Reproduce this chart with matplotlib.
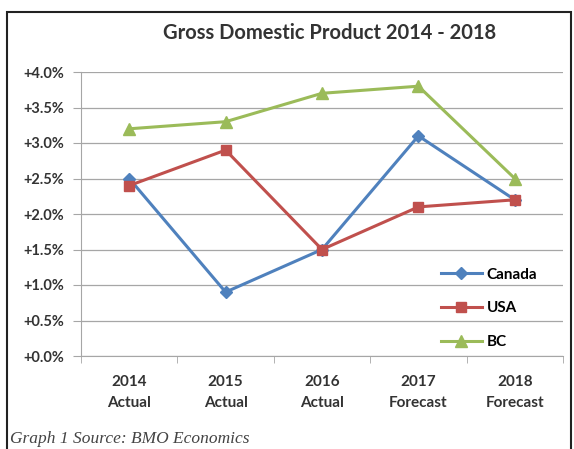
import matplotlib.pyplot as plt
from matplotlib.patches import Rectangle
from matplotlib.ticker import FixedLocator, FuncFormatter

# Data
years = ["2014\nActual", "2015\nActual", "2016\nActual", "2017\nForecast", "2018\nForecast"]
canada = [2.5, 0.9, 1.5, 3.1, 2.2]
usa = [2.4, 2.9, 1.5, 2.1, 2.2]
bc = [3.2, 3.3, 3.7, 3.8, 2.5]

plt.rcParams['font.family'] = ['Lato', 'DejaVu Sans']

fig = plt.figure(figsize=(5.74, 4.49), dpi=100)
ax = fig.add_axes([81 / 574, 93 / 449, 482 / 574, 284 / 449])

x = list(range(len(years)))
ax.plot(x, canada, color='#4F81BD', lw=2.2, marker='D', ms=6, label='Canada')
ax.plot(x, usa, color='#C0504D', lw=2.2, marker='s', ms=7.5, label='USA')
ax.plot(x, bc, color='#9BBB59', lw=2.2, marker='^', ms=8, label='BC')

ax.set_xlim(-0.5, len(years) - 0.5)
ax.set_ylim(0, 4.0)
ax.set_yticks([i * 0.5 for i in range(9)])
ax.yaxis.set_major_formatter(FuncFormatter(lambda v, p: '+%.1f%%' % v))
ax.grid(axis='y', color='#a6a6a6', lw=0.9)
ax.set_axisbelow(True)

ax.set_xticks(x)
ax.set_xticklabels(years, fontweight='bold', fontsize=11, color='#333333', linespacing=1.6)
ax.xaxis.set_minor_locator(FixedLocator([i - 0.5 for i in range(len(years) + 1)]))
ax.tick_params(axis='x', which='major', length=0, pad=14)
ax.tick_params(axis='x', which='minor', length=5, color='#a6a6a6')
ax.tick_params(axis='y', length=6, color='#a6a6a6', pad=6, labelsize=10.5, labelcolor='#333333')
for lab in ax.get_yticklabels():
    lab.set_fontweight('bold')

for s in ['top', 'right']:
    ax.spines[s].set_visible(False)
for s in ['left', 'bottom']:
    ax.spines[s].set_color('#a6a6a6')

ax.legend(loc='lower right', bbox_to_anchor=(0.975, -0.025), frameon=False,
          prop={'weight': 'bold', 'size': 11}, handlelength=2.7,
          handletextpad=0.3, labelspacing=1.3)

fig.text(330 / 574, 1 - 33 / 449, 'Gross Domestic Product 2014 - 2018', ha='center',
         va='center', fontsize=14.5, fontweight='bold', color='#333333')

# outer frame of the chart
fig.patches.append(Rectangle((7 / 574, -0.1), 564 / 574, 1.1 - 12 / 449,
                             transform=fig.transFigure, fill=False, ec='#222222', lw=1.5))

fig.text(10 / 574, 0.004, 'Graph 1 Source: BMO Economics', ha='left', va='bottom',
         fontsize=12.5, style='italic', family='Liberation Serif', color='#444444')

fig.savefig('out.png', dpi=100)
